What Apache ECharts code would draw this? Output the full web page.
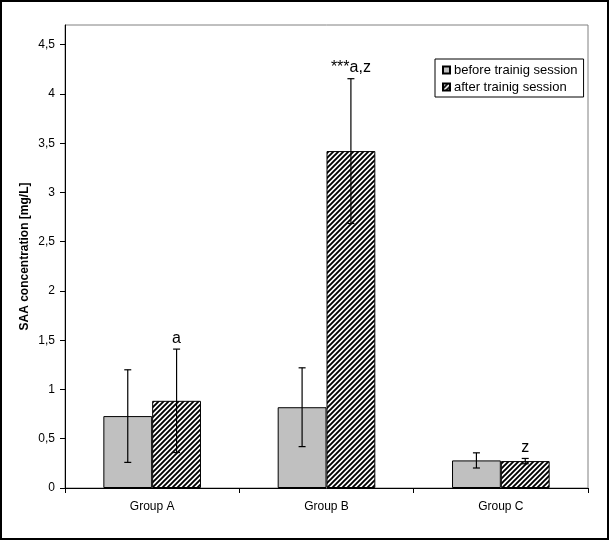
<!DOCTYPE html>
<html>
<head>
<meta charset="utf-8">
<script src="https://cdn.jsdelivr.net/npm/echarts@6/dist/echarts.min.js"></script>
<style>
html,body{margin:0;padding:0;background:#fff;}
#wrap{position:relative;width:609px;height:540px;}
#c{width:609px;height:540px;}
#frame{position:absolute;left:0;top:0;width:609px;height:540px;box-sizing:border-box;border:2px solid #000;pointer-events:none;}
</style>
</head>
<body>
<div id="wrap"><div id="c"></div><div id="frame"></div></div>
<script>
var categories = ['Group A', 'Group B', 'Group C'];
var seriesNames = ['before trainig session', 'after trainig session'];
var beforeValues = [0.73, 0.82, 0.28];
var beforeErrors = [0.47, 0.40, 0.077];
var afterValues = [0.885, 3.42, 0.273];
var afterErrors = [0.525, 0.735, 0.027];
var afterNotes = ['a', '***a,z', 'z'];
var beforeNotes = ['', '', ''];
var yTicks = [0, 0.5, 1, 1.5, 2, 2.5, 3, 3.5, 4, 4.5];

function hatch() {
  var s = 5;
  var cv = document.createElement('canvas');
  cv.width = s; cv.height = s;
  var ctx = cv.getContext('2d');
  ctx.fillStyle = '#fff';
  ctx.fillRect(0, 0, s, s);
  ctx.strokeStyle = '#000';
  ctx.lineWidth = 1.9;
  ctx.beginPath();
  ctx.moveTo(-1, s + 1); ctx.lineTo(s + 1, -1);
  ctx.moveTo(-1, 1); ctx.lineTo(1, -1);
  ctx.moveTo(s - 1, s + 1); ctx.lineTo(s + 1, s - 1);
  ctx.stroke();
  return cv;
}

var BAR_FRAC = 0.28;
function errSeries(name, values, errors, notes, side) {
  var data = values.map(function (v, i) { return [i, v, errors[i], notes[i]]; });
  return {
    type: 'custom',
    name: name + ' err',
    z: 5,
    silent: true,
    data: data,
    renderItem: function (params, api) {
      var i = api.value(0), v = api.value(1), e = api.value(2);
      var note = data[params.dataIndex][3];
      var c = api.coord([i, v]);
      var bw = api.size([1, 0])[0] * BAR_FRAC;
      var x = c[0] + side * bw / 2;
      var yt = api.coord([i, v + e])[1];
      var yb = api.coord([i, v - e])[1];
      var cap = 3.5;
      var st = { stroke: '#000', lineWidth: 1.2 };
      var ch = [
        { type: 'line', shape: { x1: x, y1: yt, x2: x, y2: yb }, style: st },
        { type: 'line', shape: { x1: x - cap, y1: yt, x2: x + cap, y2: yt }, style: st },
        { type: 'line', shape: { x1: x - cap, y1: yb, x2: x + cap, y2: yb }, style: st }
      ];
      if (note) {
        ch.push({ type: 'text', style: { text: note, x: x, y: yt - 3, align: 'center', verticalAlign: 'bottom', fill: '#000', font: '16px "Liberation Sans", Arial, sans-serif' } });
      }
      return { type: 'group', children: ch };
    }
  };
}

var chart = echarts.init(document.getElementById('c'));
chart.setOption({
  animation: false,
  backgroundColor: '#fff',
  textStyle: { fontFamily: '"Liberation Sans", Arial, sans-serif', color: '#000' },
  grid: { left: 65, right: 21, top: 25, bottom: 52, show: true, borderColor: '#808080', borderWidth: 1, backgroundColor: '#fff' },
  legend: {
    orient: 'vertical', left: 435, top: 59,
    data: seriesNames,
    itemWidth: 7, itemHeight: 7, itemGap: 1,
    padding: [3, 6, 2, 7],
    borderColor: '#000', borderWidth: 1, backgroundColor: '#fff',
    textStyle: { fontSize: 13, lineHeight: 16, color: '#000', padding: [0, 0, 0, -1] },
    icon: 'rect'
  },
  xAxis: {
    type: 'category', data: categories,
    axisLine: { lineStyle: { color: '#000', width: 1 } },
    axisTick: { show: true, length: 5, lineStyle: { color: '#000' } },
    axisLabel: { fontSize: 12, color: '#000', margin: 13 }
  },
  yAxis: {
    type: 'value', min: 0, max: 4.7, interval: 0.5,
    name: 'SAA concentration [mg/L]', nameLocation: 'middle', nameGap: 34,
    nameMoveOverlap: false,
    nameTextStyle: { fontSize: 12, fontWeight: 'bold', color: '#000' },
    axisLine: { show: true, lineStyle: { color: '#000', width: 1 } },
    axisTick: { show: true, length: 5, lineStyle: { color: '#000' } },
    axisLabel: {
      fontSize: 12, color: '#000', margin: 10, showMaxLabel: false,
      formatter: function (v) { return yTicks.indexOf(v) >= 0 ? String(v).replace('.', ',') : ''; }
    },
    splitLine: { show: false }
  },
  series: [
    {
      type: 'bar', name: seriesNames[0], data: beforeValues,
      barWidth: (BAR_FRAC * 100) + '%', barGap: '0%',
      itemStyle: { color: '#c0c0c0', borderColor: '#000', borderWidth: 1 }
    },
    {
      type: 'bar', name: seriesNames[1], data: afterValues,
      barWidth: (BAR_FRAC * 100) + '%', barGap: '0%',
      itemStyle: { color: { image: hatch(), repeat: 'repeat' }, borderColor: '#000', borderWidth: 1 }
    },
    errSeries(seriesNames[0], beforeValues, beforeErrors, beforeNotes, -1),
    errSeries(seriesNames[1], afterValues, afterErrors, afterNotes, 1)
  ]
});
</script>
</body>
</html>
